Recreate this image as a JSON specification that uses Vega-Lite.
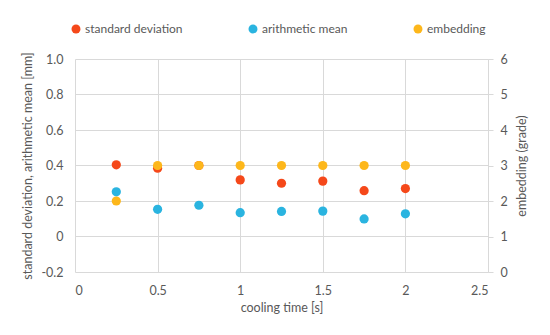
{
  "$schema": "https://vega.github.io/schema/vega-lite/v6.json",
  "width": 413,
  "height": 213,
  "autosize": {"type": "none"},
  "padding": {"left": 75, "top": 59, "right": 62, "bottom": 63},
  "background": "white",
  "config": {
    "font": "Lato",
    "view": {"stroke": null},
    "axis": {
      "labelColor": "#595959",
      "titleColor": "#595959",
      "labelFont": "Lato",
      "titleFont": "Lato",
      "labelFontSize": 12.5,
      "titleFontSize": 12.5,
      "titleFontWeight": "normal",
      "gridColor": "#d9d9d9",
      "domainColor": "#d9d9d9",
      "tickColor": "#d9d9d9"
    },
    "legend": {
      "labelFont": "Lato",
      "labelFontSize": 12,
      "labelColor": "#595959"
    }
  },
  "data": {
    "values": [
      {"t": 0.25, "series": "standard deviation", "value": 0.404},
      {"t": 0.5, "series": "standard deviation", "value": 0.385},
      {"t": 0.75, "series": "standard deviation", "value": 0.400},
      {"t": 1.0, "series": "standard deviation", "value": 0.319},
      {"t": 1.25, "series": "standard deviation", "value": 0.300},
      {"t": 1.5, "series": "standard deviation", "value": 0.312},
      {"t": 1.75, "series": "standard deviation", "value": 0.258},
      {"t": 2.0, "series": "standard deviation", "value": 0.270},
      {"t": 0.25, "series": "arithmetic mean", "value": 0.252},
      {"t": 0.5, "series": "arithmetic mean", "value": 0.153},
      {"t": 0.75, "series": "arithmetic mean", "value": 0.176},
      {"t": 1.0, "series": "arithmetic mean", "value": 0.134},
      {"t": 1.25, "series": "arithmetic mean", "value": 0.141},
      {"t": 1.5, "series": "arithmetic mean", "value": 0.143},
      {"t": 1.75, "series": "arithmetic mean", "value": 0.099},
      {"t": 2.0, "series": "arithmetic mean", "value": 0.128},
      {"t": 0.25, "series": "embedding", "value": 2},
      {"t": 0.5, "series": "embedding", "value": 3},
      {"t": 0.75, "series": "embedding", "value": 3},
      {"t": 1.0, "series": "embedding", "value": 3},
      {"t": 1.25, "series": "embedding", "value": 3},
      {"t": 1.5, "series": "embedding", "value": 3},
      {"t": 1.75, "series": "embedding", "value": 3},
      {"t": 2.0, "series": "embedding", "value": 3}
    ]
  },
  "layer": [
    {
      "transform": [{"filter": "datum.series !== 'embedding'"}],
      "mark": {"type": "point", "filled": true, "size": 85, "opacity": 1, "shape": "circle"},
      "encoding": {
        "x": {
          "field": "t", "type": "quantitative",
          "scale": {"domain": [0, 2.5]},
          "axis": {
            "values": [0, 0.5, 1, 1.5, 2, 2.5],
            "format": "~g",
            "title": "cooling time [s]",
            "grid": true, "domain": false, "ticks": false,
            "labelPadding": 12, "titlePadding": 5
          }
        },
        "y": {
          "field": "value", "type": "quantitative",
          "scale": {"domain": [-0.2, 1.0]},
          "axis": {
            "values": [-0.2, 0, 0.2, 0.4, 0.6, 0.8, 1.0],
            "labelExpr": "datum.value === 0 ? '0' : replace(format(datum.value, '.1f'), '\u2212', '-')",
            "title": "standard deviation, arithmetic mean [mm]",
            "grid": true, "domain": false, "ticks": false,
            "labelPadding": 12, "titlePadding": 6
          }
        },
        "color": {
          "field": "series", "type": "nominal",
          "scale": {
            "domain": ["standard deviation", "arithmetic mean", "embedding"],
            "range": ["#F5481A", "#2AB4E0", "#FDB71B"]
          },
          "legend": {
            "title": null,
            "orient": "none",
            "direction": "horizontal",
            "legendX": -5,
            "legendY": -36,
            "symbolType": "circle",
            "symbolSize": 80,
            "symbolStrokeWidth": 0,
            "columnPadding": 64,
            "labelOffset": 3
          }
        }
      }
    },
    {
      "transform": [{"filter": "datum.series === 'embedding'"}],
      "mark": {"type": "point", "filled": true, "size": 85, "opacity": 1, "shape": "circle"},
      "encoding": {
        "x": {"field": "t", "type": "quantitative", "scale": {"domain": [0, 2.5]}},
        "y": {
          "field": "value", "type": "quantitative",
          "scale": {"domain": [0, 6]},
          "axis": {
            "orient": "right",
            "values": [0, 1, 2, 3, 4, 5, 6],
            "title": "embedding (grade)",
            "titleAngle": 270,
            "titleBaseline": "top",
            "grid": false, "domain": true, "ticks": true, "tickSize": 5,
            "labelPadding": 7, "titlePadding": 8
          }
        },
        "color": {"field": "series", "type": "nominal"}
      }
    }
  ],
  "resolve": {"scale": {"y": "independent"}}
}
